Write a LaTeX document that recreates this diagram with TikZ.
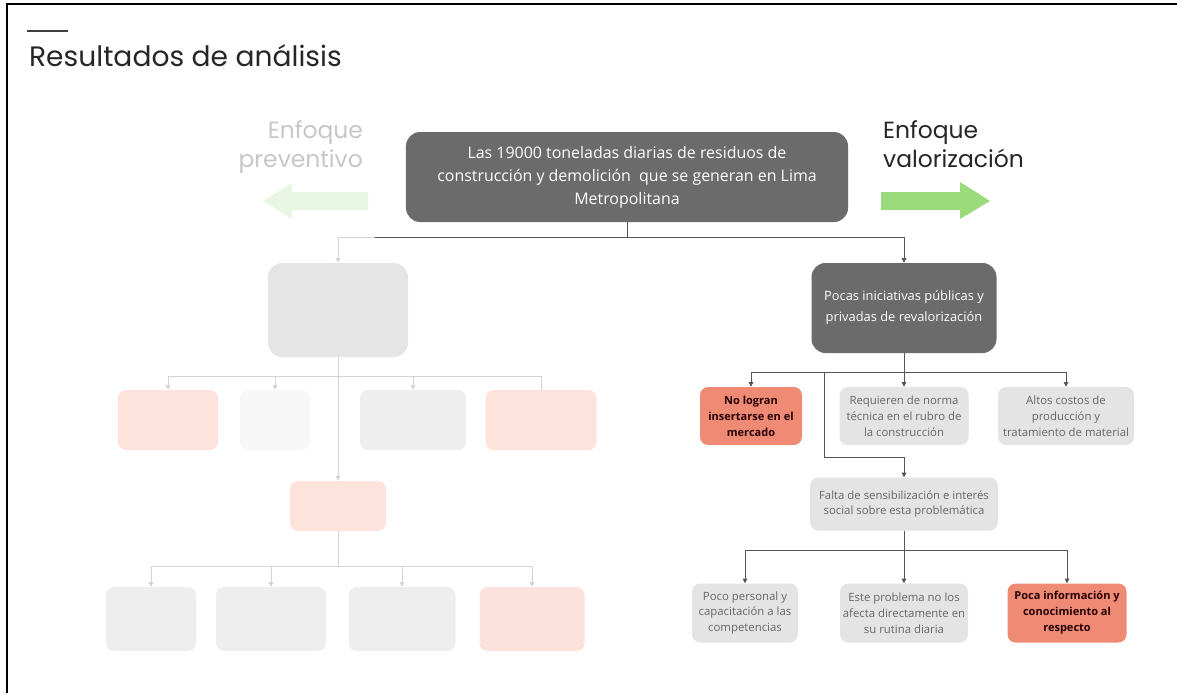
\documentclass[tikz,border=0pt]{standalone}
\usepackage{fontspec}
\setmainfont{Open Sans}
\newfontfamily\headfont{Poppins}
\usepackage{xcolor}
\usetikzlibrary{arrows.meta}

\definecolor{darkfill}{HTML}{6B6B6B}
\definecolor{lightfill}{HTML}{E4E4E4}
\definecolor{salmon}{HTML}{EF8A74}
\definecolor{linegray}{HTML}{555555}
\definecolor{fadefill}{HTML}{EEEEEE}
\definecolor{fadesalmon}{HTML}{FDE3DC}
\definecolor{fadeline}{HTML}{D4D4D4}
\definecolor{arrowgreen}{HTML}{9BDB7C}
\definecolor{fadegreen}{HTML}{EAF6E4}

\begin{document}
\begin{tikzpicture}[x=0.03cm, y=-0.03cm,
    box/.style={rounded corners=7pt, align=center, inner sep=2pt,
      font=\fontsize{9.7}{13.6}\selectfont},
    graybox/.style={box, fill=lightfill, text=black!60},
    hotbox/.style={box, fill=salmon, text=black!85!red,
      font=\fontsize{9.4}{13.6}\selectfont\bfseries},
    darkbox/.style={box, fill=darkfill, text=white, rounded corners=12pt},
    fadebox/.style={box, fill=fadefill},
    fadehot/.style={box, fill=fadesalmon},
    conn/.style={linegray, line width=0.8pt},
    faint/.style={fadeline, line width=0.8pt},
    arr/.style={-{Triangle[length=4pt,width=4pt]}}]
    \useasboundingbox (0,0) rectangle (1177,693);
    % frame and title
    \draw[line width=2.5pt] (7,693) -- (7,4) -- (1177,4);
    \draw[black!75, line width=1.5pt] (27,31) -- (68,31);
    \node[anchor=base west, font=\headfont\fontsize{24}{28}\selectfont, text=black!85] (title) at (25,66) {Resultados de análisis};
    % approaches
    \node[anchor=base east, align=right, text=black!22, font=\headfont\fontsize{20}{24}\selectfont] (prev) at (367,167) {Enfoque\\preventivo};
    \node[anchor=base west, align=left, text=black!85, font=\headfont\fontsize{20}{24}\selectfont] (valor) at (879,167) {Enfoque\\valorización};
    \fill[fadegreen] (368,192) -- (292,192) -- (292,183) -- (263,201) -- (292,219) -- (292,210) -- (368,210) -- cycle;
    \fill[arrowgreen] (881,192) -- (960,192) -- (960,182) -- (990,201) -- (960,219) -- (960,210) -- (881,210) -- cycle;
    % main problem
    \node[darkbox, minimum width=13.26cm, minimum height=2.7cm, font=\fontsize{13.6}{19.6}\selectfont] (top) at (627,177) {Las 19000 toneladas diarias de residuos de\\construcción y demolición \ que se generan en Lima\\Metropolitana};
    % right branch
    \node[darkbox, minimum width=5.55cm, minimum height=2.7cm, font=\fontsize{11}{18}\selectfont] (pocas) at (904,308) {Pocas iniciativas públicas y\\privadas de revalorización};
    \node[hotbox, minimum width=3.06cm, minimum height=1.74cm] (nolog) at (751,416) {No logran\\insertarse en el\\mercado};
    \node[graybox, minimum width=3.87cm, minimum height=1.74cm] (requ) at (904,416) {Requieren de norma\\técnica en el rubro de\\la construcción};
    \node[graybox, minimum width=4.08cm, minimum height=1.74cm] (altos) at (1066,416) {Altos costos de\\producción y\\tratamiento de material};
    \node[graybox, minimum width=5.64cm, minimum height=1.59cm] (falta) at (904,504) {Falta de sensibilización e interés\\social sobre esta problemática};
    \node[graybox, minimum width=3.18cm, minimum height=1.77cm] (poco) at (745,613) {Poco personal y\\capacitación a las\\competencias};
    \node[graybox, minimum width=3.84cm, minimum height=1.77cm] (este) at (904,613) {Este problema no los\\afecta directamente en\\su rutina diaria};
    \node[hotbox, minimum width=3.57cm, minimum height=1.77cm] (pocainf) at (1067,613) {Poca información y\\conocimiento al\\respecto};
    % left branch (faded)
    \node[fadebox, fill=black!10, rounded corners=12pt, minimum width=4.2cm, minimum height=2.82cm] (lprev) at (338,310) {};
    \node[fadehot, minimum width=3cm, minimum height=1.8cm] (la) at (168,420) {};
    \node[fadebox, fill=black!3, minimum width=2.1cm, minimum height=1.8cm] (lb) at (275,420) {};
    \node[fadebox, minimum width=3.18cm, minimum height=1.8cm] (lc) at (413,420) {};
    \node[fadehot, minimum width=3.33cm, minimum height=1.8cm] (ld) at (541,420) {};
    \node[fadehot, minimum width=2.88cm, minimum height=1.5cm] (le) at (338,506) {};
    \node[fadebox, minimum width=2.7cm, minimum height=1.92cm] (lf) at (151,619) {};
    \node[fadebox, minimum width=3.3cm, minimum height=1.92cm] (lg) at (271,619) {};
    \node[fadebox, minimum width=3.21cm, minimum height=1.92cm] (lh) at (402,619) {};
    \node[fadehot, fill=salmon!25, minimum width=3.15cm, minimum height=1.92cm] (li) at (532,619) {};
    % connectors
    \coordinate (hub) at (627,237);
    \coordinate (lturn) at (375,237);
    \coordinate (fork) at (824,372);
    \draw[conn] (top.south) -- (hub) -- (lturn);
    \draw[conn, arr] (hub) -| (pocas.north);
    \draw[faint, arr] (lturn) -| (lprev.north);
    \draw[conn, arr] (pocas.south) -- ++(0,19) -| (nolog.north);
    \draw[conn, arr] (pocas.south) -- ++(0,19) -| (altos.north);
    \draw[conn, arr] (pocas.south) -- (requ.north);
    \draw[conn, arr] (fork) |- (904,457) -- (falta.north);
    \draw[conn, arr] (falta.south) -- ++(0,20) -| (poco.north);
    \draw[conn, arr] (falta.south) -- ++(0,20) -| (pocainf.north);
    \draw[conn, arr] (falta.south) -- (este.north);
    \draw[faint, arr] (lprev.south) -- ++(0,19) -| (la.north);
    \draw[faint, arr] (lprev.south) -- ++(0,19) -| (lb.north);
    \draw[faint, arr] (lprev.south) -- ++(0,19) -| (lc.north);
    \draw[faint] (lprev.south) -- ++(0,19) -| (ld.north);
    \draw[faint, arr] (lprev.south) -- (le.north);
    \draw[faint, arr] (le.south) -- ++(0,35) -| (lf.north);
    \draw[faint, arr] (le.south) -- ++(0,35) -| (lg.north);
    \draw[faint, arr] (le.south) -- ++(0,35) -| (lh.north);
    \draw[faint, arr] (le.south) -- ++(0,35) -| (li.north);
\end{tikzpicture}
\end{document}
